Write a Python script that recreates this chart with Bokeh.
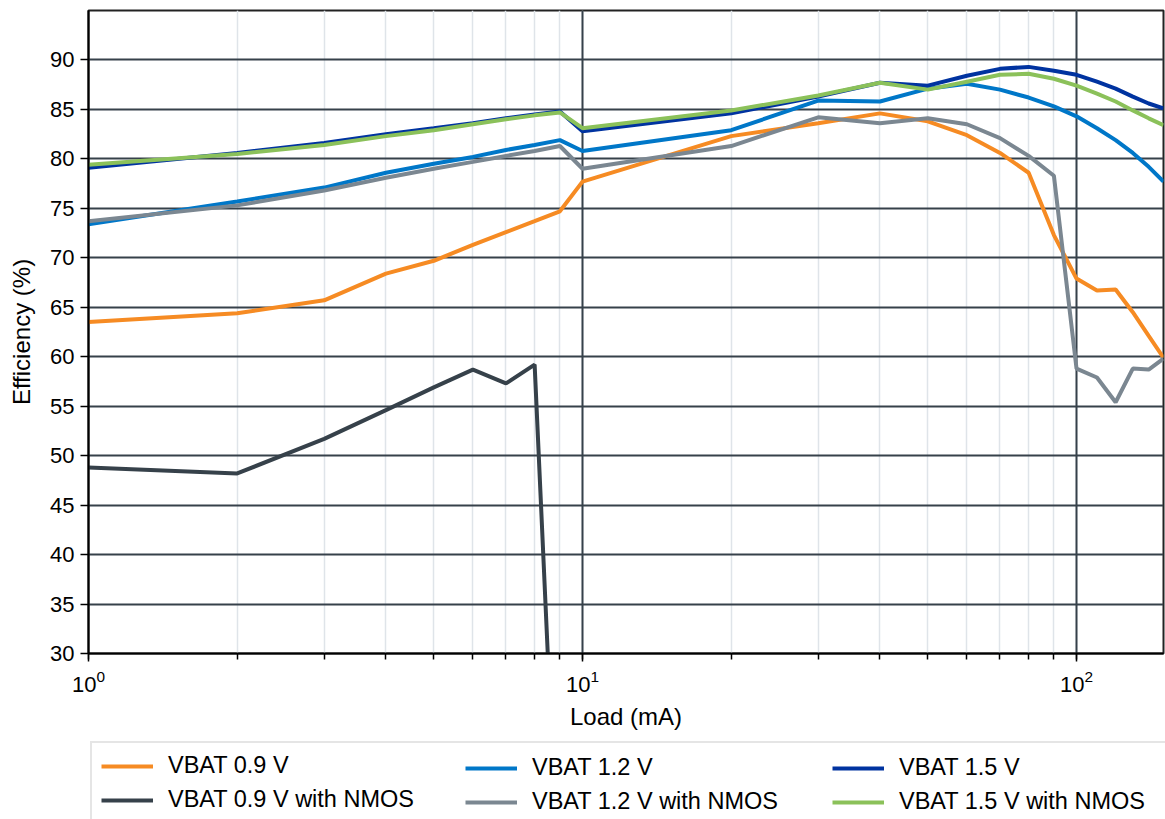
from bokeh.plotting import figure
from bokeh.layouts import column
from bokeh.models import Range1d, FixedTicker, LogTicker, Legend, LegendItem
from bokeh.embed import file_html
from bokeh.resources import INLINE

# Load current (mA)
load_ma = [1, 2, 3, 4, 5, 6, 7, 8, 9, 10, 20, 30, 40, 50, 60, 70, 80, 90,
           100, 110, 120, 130, 140, 150]
load_ma_09_nmos = [1, 2, 3, 4, 5, 6, 7, 8, 9]

# Efficiency (%)
vbat_09 = [63.5, 64.4, 65.7, 68.4, 69.7, 71.3, 72.6, 73.7, 74.7, 77.7, 82.3,
           83.6, 84.6, 83.8, 82.4, 80.6, 78.6, 72.3, 67.9, 66.7, 66.8, 64.5,
           62.1, 59.9]
vbat_09_nmos = [48.8, 48.2, 51.7, 54.6, 56.9, 58.7, 57.3, 59.2, 3.0]
vbat_12 = [73.4, 75.7, 77.1, 78.6, 79.5, 80.2, 80.9, 81.4, 81.9, 80.8, 82.9,
           85.9, 85.8, 87.1, 87.6, 87.0, 86.2, 85.3, 84.3, 83.1, 81.9, 80.6,
           79.2, 77.7]
vbat_12_nmos = [73.7, 75.3, 76.8, 78.1, 79.0, 79.7, 80.3, 80.8, 81.3, 79.0,
                81.3, 84.2, 83.6, 84.1, 83.5, 82.1, 80.3, 78.3, 58.8, 57.9,
                55.4, 58.8, 58.7, 59.8]
vbat_15 = [79.1, 80.6, 81.6, 82.5, 83.1, 83.6, 84.1, 84.5, 84.8, 82.8, 84.6,
           86.3, 87.7, 87.4, 88.4, 89.1, 89.3, 88.9, 88.5, 87.8, 87.1, 86.3,
           85.6, 85.1]
vbat_15_nmos = [79.4, 80.5, 81.4, 82.3, 82.9, 83.5, 84.0, 84.4, 84.7, 83.1,
                84.9, 86.4, 87.7, 87.0, 87.8, 88.5, 88.6, 88.1, 87.4, 86.6,
                85.8, 84.9, 84.1, 83.4]

labels = ["VBAT 0.9 V", "VBAT 0.9 V with NMOS", "VBAT 1.2 V",
          "VBAT 1.2 V with NMOS", "VBAT 1.5 V", "VBAT 1.5 V with NMOS"]
colors = ["#f68b23", "#36414a", "#0077c8", "#7b8791", "#0033a0", "#8bc15a"]
y_ticks = [30, 35, 40, 45, 50, 55, 60, 65, 70, 75, 80, 85, 90]

FONT = "Liberation Sans"

p = figure(frame_width=1075, frame_height=643, x_axis_type="log",
           x_range=Range1d(1, 150), y_range=Range1d(30, 95),
           output_backend="svg", toolbar_location=None,
           min_border_left=88, min_border_right=2, min_border_top=10,
           min_border_bottom=87, background_fill_color="white",
           border_fill_color="white")

series = [(load_ma, vbat_09), (load_ma_09_nmos, vbat_09_nmos),
          (load_ma, vbat_12), (load_ma, vbat_12_nmos),
          (load_ma, vbat_15), (load_ma, vbat_15_nmos)]
for (xs, ys), c in zip(series, colors):
    p.line(xs, ys, line_color=c, line_width=4)

p.xaxis.ticker = LogTicker(mantissas=[1], num_minor_ticks=10)
p.yaxis.ticker = FixedTicker(ticks=y_ticks)

for ax in (p.xaxis[0], p.yaxis[0]):
    ax.axis_label_text_font = FONT
    ax.axis_label_text_font_size = "24px"
    ax.axis_label_text_font_style = "normal"
    ax.axis_label_text_color = "black"
    ax.major_label_text_font = FONT
    ax.major_label_text_font_size = "22px"
    ax.major_label_text_color = "black"
    ax.axis_line_color = "black"
    ax.axis_line_width = 2
    ax.major_tick_line_color = "black"
    ax.major_tick_line_width = 1.5
    ax.major_tick_out = 8
    ax.major_tick_in = 0
    ax.minor_tick_line_color = "black"
    ax.minor_tick_line_width = 1.5
    ax.minor_tick_in = 0

p.xaxis.axis_label = "Load (mA)"
p.yaxis.axis_label = "Efficiency (%)"
p.xaxis.minor_tick_out = 6
p.yaxis.minor_tick_out = 0
p.xaxis.major_label_standoff = 8
p.yaxis.major_label_standoff = 6
p.xaxis.axis_label_standoff = 8
p.yaxis.axis_label_standoff = 12

p.ygrid.grid_line_color = "#36414a"
p.ygrid.grid_line_width = 2
p.xgrid.grid_line_color = "#36414a"
p.xgrid.grid_line_width = 2
p.xgrid.minor_grid_line_color = "#dfe4e9"
p.xgrid.minor_grid_line_width = 1.5

p.outline_line_color = "#222222"
p.outline_line_width = 2

# Legend strip below the chart. The legend proxies repeat the series but lie
# outside this strip's (empty) ranges, so only their legend glyphs show.
q = figure(frame_width=1165, frame_height=79, x_range=Range1d(-2, -1),
           y_range=Range1d(-2, -1), output_backend="svg",
           toolbar_location=None, x_axis_location=None, y_axis_location=None,
           min_border=0, outline_line_color=None,
           background_fill_color="white", border_fill_color="white")
q.grid.visible = False
proxies = [q.line(xs, ys, line_color=c, line_width=4)
           for (xs, ys), c in zip(series, colors)]

common = dict(orientation="vertical", glyph_width=52, glyph_height=24,
              label_standoff=15, label_text_font=FONT,
              label_text_font_size="23.5px", label_text_color="black",
              label_height=24, spacing=7, padding=9, margin=0)
col_offsets = [90, 456, 823]
for k in range(3):
    items = [LegendItem(label=labels[2 * k + j], renderers=[proxies[2 * k + j]])
             for j in range(2)]
    if k == 0:
        lg = Legend(items=items, location=(col_offsets[k], -5),
                    label_width=988, border_line_color="#cccccc",
                    border_line_width=2, background_fill_color="white",
                    background_fill_alpha=1.0, **common)
    else:
        lg = Legend(items=items, location=(col_offsets[k], -5),
                    label_width=200, border_line_alpha=0.0,
                    background_fill_alpha=0.0, **common)
    q.add_layout(lg, "center")

layout = column(p, q, spacing=0)
open("out.html", "w").write(file_html(layout, INLINE))
